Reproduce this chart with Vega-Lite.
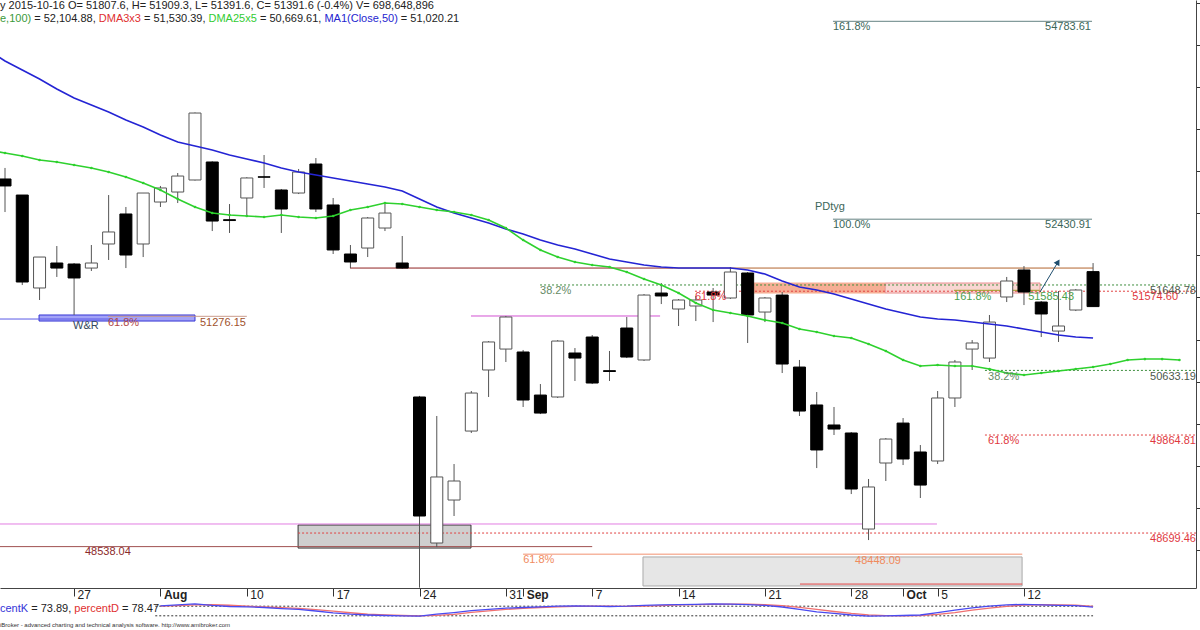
{
"$schema": "https://vega.github.io/schema/vega-lite/v6.json",
"autosize": "none",
"padding": {"left": 0, "top": 0, "right": 4, "bottom": 0},
"width": 1196,
"height": 630,
"background": "#ffffff",
"config": {"font": "Liberation Sans", "view": {"stroke": null}, "scale": {"continuousPadding": 0}},
"datasets": {
"candles": [
{"i":1,"o":52909,"h":53040,"l":52516,"c":52826},
{"i":2,"o":52718,"h":52718,"l":51648,"c":51684},
{"i":3,"o":51613,"h":51981,"l":51470,"c":51981},
{"i":4,"o":51910,"h":52112,"l":51744,"c":51850},
{"i":5,"o":51898,"h":51910,"l":51292,"c":51732},
{"i":6,"o":51850,"h":52124,"l":51815,"c":51910},
{"i":7,"o":52136,"h":52718,"l":51946,"c":52279},
{"i":8,"o":52493,"h":52576,"l":51850,"c":52005},
{"i":9,"o":52136,"h":52742,"l":51981,"c":52742},
{"i":10,"o":52635,"h":52826,"l":52576,"c":52802},
{"i":11,"o":52754,"h":52980,"l":52623,"c":52944},
{"i":12,"o":52897,"h":53700,"l":52890,"c":53693},
{"i":13,"o":53111,"h":53120,"l":52290,"c":52409},
{"i":14,"o":52425,"h":52611,"l":52267,"c":52415},
{"i":15,"o":52683,"h":52930,"l":52457,"c":52921},
{"i":16,"o":52935,"h":53194,"l":52802,"c":52930},
{"i":17,"o":52778,"h":52790,"l":52267,"c":52552},
{"i":18,"o":52742,"h":53028,"l":52730,"c":52992},
{"i":19,"o":53087,"h":53158,"l":52516,"c":52552},
{"i":20,"o":52600,"h":52683,"l":52017,"c":52065},
{"i":21,"o":52017,"h":52124,"l":51850,"c":51922},
{"i":22,"o":52088,"h":52457,"l":51981,"c":52445},
{"i":23,"o":52326,"h":52623,"l":52290,"c":52504},
{"i":24,"o":51910,"h":52231,"l":51840,"c":51850},
{"i":25,"o":50317,"h":50330,"l":48050,"c":48902},
{"i":26,"o":48581,"h":50091,"l":48533,"c":49366},
{"i":27,"o":49092,"h":49520,"l":48902,"c":49318},
{"i":28,"o":49912,"h":50388,"l":49889,"c":50364},
{"i":29,"o":50638,"h":50982,"l":50317,"c":50971},
{"i":30,"o":50887,"h":51280,"l":50733,"c":51268},
{"i":31,"o":50852,"h":50876,"l":50198,"c":50281},
{"i":32,"o":50340,"h":50471,"l":50114,"c":50126},
{"i":33,"o":50317,"h":50994,"l":50305,"c":50982},
{"i":34,"o":50840,"h":50899,"l":50507,"c":50780},
{"i":35,"o":51030,"h":51054,"l":50471,"c":50483},
{"i":36,"o":50630,"h":50864,"l":50507,"c":50620},
{"i":37,"o":51137,"h":51268,"l":50780,"c":50792},
{"i":38,"o":50757,"h":51541,"l":50745,"c":51529},
{"i":39,"o":51553,"h":51672,"l":51422,"c":51518},
{"i":40,"o":51363,"h":51482,"l":51161,"c":51470},
{"i":41,"o":51399,"h":51518,"l":51220,"c":51470},
{"i":42,"o":51565,"h":51613,"l":51208,"c":51529},
{"i":43,"o":51494,"h":51862,"l":51482,"c":51803},
{"i":44,"o":51791,"h":51803,"l":50959,"c":51292},
{"i":45,"o":51327,"h":51506,"l":51208,"c":51494},
{"i":46,"o":51529,"h":51565,"l":50602,"c":50709},
{"i":47,"o":50673,"h":50757,"l":50091,"c":50150},
{"i":48,"o":50222,"h":50376,"l":49472,"c":49687},
{"i":49,"o":49984,"h":50198,"l":49865,"c":49936},
{"i":50,"o":49889,"h":49900,"l":49163,"c":49223},
{"i":51,"o":48747,"h":49342,"l":48616,"c":49247},
{"i":52,"o":49532,"h":49829,"l":49318,"c":49817},
{"i":53,"o":50007,"h":50067,"l":49508,"c":49580},
{"i":54,"o":49663,"h":49746,"l":49116,"c":49270},
{"i":55,"o":49556,"h":50388,"l":49520,"c":50305},
{"i":56,"o":50305,"h":50757,"l":50198,"c":50733},
{"i":57,"o":50887,"h":50994,"l":50638,"c":50959},
{"i":58,"o":50780,"h":51292,"l":50733,"c":51208},
{"i":59,"o":51506,"h":51744,"l":51446,"c":51696},
{"i":60,"o":51827,"h":51874,"l":51410,"c":51565},
{"i":61,"o":51446,"h":51458,"l":51030,"c":51304},
{"i":62,"o":51101,"h":51577,"l":50971,"c":51161},
{"i":63,"o":51351,"h":51601,"l":51339,"c":51589},
{"i":64,"o":51807.6,"h":51909.3,"l":51391.6,"c":51391.6}
],
"ma": [
{"i":0,"ma":54443,"dma":53254},{"i":1,"ma":54312,"dma":53218},{"i":2,"ma":54205,"dma":53182},{"i":3,"ma":54098,"dma":53135},
{"i":4,"ma":53979,"dma":53111},{"i":5,"ma":53872,"dma":53075},{"i":6,"ma":53789,"dma":53040},{"i":7,"ma":53705,"dma":52992},
{"i":8,"ma":53610,"dma":52932},{"i":9,"ma":53527,"dma":52861},{"i":10,"ma":53432,"dma":52778},{"i":11,"ma":53349,"dma":52671},
{"i":12,"ma":53301,"dma":52576},{"i":13,"ma":53254,"dma":52504},{"i":14,"ma":53194,"dma":52481},{"i":15,"ma":53147,"dma":52469},
{"i":16,"ma":53099,"dma":52457},{"i":17,"ma":53040,"dma":52481},{"i":18,"ma":52992,"dma":52457},{"i":19,"ma":52956,"dma":52445},
{"i":20,"ma":52921,"dma":52469},{"i":21,"ma":52885,"dma":52540},{"i":22,"ma":52849,"dma":52576},{"i":23,"ma":52814,"dma":52623},
{"i":24,"ma":52766,"dma":52611},{"i":25,"ma":52671,"dma":52576},{"i":26,"ma":52576,"dma":52540},{"i":27,"ma":52504,"dma":52516},
{"i":28,"ma":52445,"dma":52481},{"i":29,"ma":52386,"dma":52421},{"i":30,"ma":52314,"dma":52326},{"i":31,"ma":52255,"dma":52183},
{"i":32,"ma":52183,"dma":52065},{"i":33,"ma":52124,"dma":51981},{"i":34,"ma":52076,"dma":51922},{"i":35,"ma":52017,"dma":51886},
{"i":36,"ma":51958,"dma":51862},{"i":37,"ma":51922,"dma":51803},{"i":38,"ma":51886,"dma":51720},{"i":39,"ma":51862,"dma":51648},
{"i":40,"ma":51850,"dma":51553},{"i":41,"ma":51850,"dma":51434},{"i":42,"ma":51850,"dma":51351},{"i":43,"ma":51850,"dma":51315},
{"i":44,"ma":51827,"dma":51280},{"i":45,"ma":51779,"dma":51232},{"i":46,"ma":51696,"dma":51197},{"i":47,"ma":51625,"dma":51125},
{"i":48,"ma":51589,"dma":51090},{"i":49,"ma":51541,"dma":51042},{"i":50,"ma":51482,"dma":51018},{"i":51,"ma":51422,"dma":50947},
{"i":52,"ma":51363,"dma":50864},{"i":53,"ma":51315,"dma":50757},{"i":54,"ma":51268,"dma":50685},{"i":55,"ma":51244,"dma":50697},
{"i":56,"ma":51232,"dma":50685},{"i":57,"ma":51208,"dma":50685},{"i":58,"ma":51185,"dma":50650},{"i":59,"ma":51161,"dma":50602},
{"i":60,"ma":51125,"dma":50578},{"i":61,"ma":51090,"dma":50602},{"i":62,"ma":51054,"dma":50626},{"i":63,"ma":51030,"dma":50650},
{"i":64,"ma":51018,"dma":50673},{"i":65,"ma":null,"dma":50709},{"i":66,"ma":null,"dma":50757},{"i":67,"ma":null,"dma":50768},
{"i":68,"ma":null,"dma":50768},{"i":69,"ma":null,"dma":50757}
],
"stoch": [
{"i":10,"k":82,"d":80},{"i":11,"k":88,"d":83},{"i":12,"k":95,"d":88},{"i":13,"k":85,"d":89},{"i":14,"k":78,"d":86},
{"i":15,"k":76,"d":80},{"i":16,"k":72,"d":75},{"i":17,"k":65,"d":71},{"i":18,"k":60,"d":66},{"i":19,"k":50,"d":58},
{"i":20,"k":38,"d":49},{"i":21,"k":30,"d":39},{"i":22,"k":25,"d":31},{"i":23,"k":22,"d":26},{"i":24,"k":20,"d":22},
{"i":25,"k":18,"d":20},{"i":26,"k":30,"d":23},{"i":27,"k":40,"d":29},{"i":28,"k":52,"d":41},{"i":29,"k":60,"d":51},
{"i":30,"k":68,"d":60},{"i":31,"k":72,"d":67},{"i":32,"k":76,"d":72},{"i":33,"k":80,"d":76},{"i":34,"k":82,"d":79},
{"i":35,"k":80,"d":81},{"i":36,"k":78,"d":80},{"i":37,"k":80,"d":79},{"i":38,"k":85,"d":81},{"i":39,"k":88,"d":84},
{"i":40,"k":90,"d":88},{"i":41,"k":92,"d":90},{"i":42,"k":95,"d":92},{"i":43,"k":93,"d":93},{"i":44,"k":90,"d":93},
{"i":45,"k":85,"d":89},{"i":46,"k":75,"d":83},{"i":47,"k":60,"d":73},{"i":48,"k":45,"d":60},{"i":49,"k":35,"d":47},
{"i":50,"k":25,"d":35},{"i":51,"k":18,"d":26},{"i":52,"k":20,"d":21},{"i":53,"k":22,"d":20},{"i":54,"k":25,"d":22},
{"i":55,"k":40,"d":29},{"i":56,"k":55,"d":40},{"i":57,"k":70,"d":55},{"i":58,"k":80,"d":68},{"i":59,"k":88,"d":79},
{"i":60,"k":92,"d":87},{"i":61,"k":88,"d":89},{"i":62,"k":85,"d":88},{"i":63,"k":84,"d":86},{"i":64,"k":73.89,"d":78.47}
],
"rects": [
{"x1":44.31,"x2":51.96,"v1":51672,"v2":51553,"kind":"salmon1"},
{"x1":51.96,"x2":60.93,"v1":51672,"v2":51553,"kind":"salmon2"},
{"x1":17.97,"x2":27.98,"v1":48795,"v2":48521,"kind":"gray1"},
{"x1":37.94,"x2":59.89,"v1":48415,"v2":48070,"kind":"gray2"},
{"x1":2.97,"x2":12.0,"v1":51292,"v2":51220,"kind":"wr"}
],
"levels": [
{"x1":48.94,"x2":63.94,"v":54783.61,"kind":"fib"},
{"x1":48.94,"x2":63.94,"v":52430.91,"kind":"fib"},
{"x1":31.98,"x2":69.96,"v":51648.78,"kind":"g382"},
{"x1":57.74,"x2":69.96,"v":50633.19,"kind":"g382"},
{"x1":40.95,"x2":69.96,"v":51574.6,"kind":"r618"},
{"x1":57.74,"x2":69.96,"v":49864.81,"kind":"r618"},
{"x1":17.97,"x2":69.96,"v":48699.46,"kind":"r618"},
{"x1":55.95,"x2":60.9,"v":51585.43,"kind":"olive"},
{"x1":0.71,"x2":54.96,"v":48807,"kind":"magenta"},
{"x1":27.98,"x2":38.93,"v":51280,"kind":"magenta2"},
{"x1":0.71,"x2":35.0,"v":48538.04,"kind":"brown"},
{"x1":31.0,"x2":59.9,"v":48448.09,"kind":"salmon"},
{"x1":47.03,"x2":59.9,"v":48093,"kind":"red"},
{"x1":20.98,"x2":39.68,"v":51850,"kind":"darkred"},
{"x1":39.68,"x2":64.0,"v":51850,"kind":"brownline"},
{"x1":0.71,"x2":7.08,"v":51244,"kind":"wrblue"},
{"x1":6.96,"x2":15.0,"v":51276.15,"kind":"wrbrown"}
],
"lefttext": [
{"t":"161.8%","x":48.94,"v":54716,"kind":"teal"},
{"t":"100.0%","x":48.94,"v":52362,"kind":"teal"},
{"t":"PDtyg","x":47.9,"v":52576,"kind":"teal"},
{"t":"38.2%","x":31.98,"v":51577,"kind":"gg"},
{"t":"61.8%","x":40.95,"v":51506,"kind":"red"},
{"t":"161.8%","x":55.95,"v":51506,"kind":"green"},
{"t":"51585.43","x":60.24,"v":51506,"kind":"green"},
{"t":"38.2%","x":57.92,"v":50554,"kind":"gg"},
{"t":"61.8%","x":57.92,"v":49793,"kind":"red"},
{"t":"48538.04","x":5.63,"v":48474,"kind":"brown"},
{"t":"61.8%","x":31.0,"v":48379,"kind":"orange"},
{"t":"48448.09","x":50.22,"v":48367,"kind":"orange"},
{"t":"W&R","x":4.94,"v":51161,"kind":"slate"},
{"t":"61.8%","x":6.96,"v":51197,"kind":"wrred"},
{"t":"51276.15","x":12.29,"v":51197,"kind":"wrbrown"}
],
"righttext": [
{"t":"54783.61","x":63.88,"v":54716,"kind":"teal"},
{"t":"52430.91","x":63.88,"v":52362,"kind":"teal"},
{"t":"51648.78","x":69.96,"v":51577,"kind":"val"},
{"t":"51574.60","x":68.92,"v":51506,"kind":"red"},
{"t":"50633.19","x":69.96,"v":50554,"kind":"val"},
{"t":"49864.81","x":69.96,"v":49793,"kind":"red"},
{"t":"48699.46","x":69.96,"v":48628,"kind":"red"}
],
"header": [
{"t":"y 2015-10-16 O= 51807.6, H= 51909.3, L= 51391.6, C= 51391.6 (-0.4%) V= 698,648,896","x":0.71,"v":54966,"kind":"plain"},
{"t":"e,100)","x":0.71,"v":54811,"kind":"g100"},
{"t":"= 52,104.88,","x":2.691,"v":54811,"kind":"plain"},
{"t":"DMA3x3","x":6.431,"v":54811,"kind":"dma3"},
{"t":"= 51,530.39,","x":9.049,"v":54811,"kind":"plain"},
{"t":"DMA25x5","x":12.783,"v":54811,"kind":"dma25"},
{"t":"= 50,669.61,","x":15.76,"v":54811,"kind":"plain"},
{"t":"MA1(Close,50)","x":19.495,"v":54811,"kind":"ma1"},
{"t":"= 51,020.21","x":23.918,"v":54811,"kind":"plain"}
],
"arrow": [{"x1":60.93,"x2":61.97,"v1":51565,"v2":51922}],
"stochlev": [{"x1":9.7,"x2":64,"v":80},{"x1":9.7,"x2":64,"v":20}],
"stochtext": [
{"t":"centK","x":0.71,"v":62,"kind":"k"},
{"t":"= 73.89,","x":2.517,"v":62,"kind":"plain"},
{"t":"percentD","x":5.013,"v":62,"kind":"d"},
{"t":"= 78.47","x":7.775,"v":62,"kind":"plain"}
],
"footer": [{"t":"iBroker - advanced charting and technical analysis software. http://www.amibroker.com","x":0.71,"v":-38}]
},
"resolve": {"scale": {"y": "independent", "color": "independent", "fill": "independent", "stroke": "independent", "strokeDash": "independent", "strokeWidth": "independent"}},
"layer": [
{
"resolve": {"scale": {"color": "independent", "fill": "independent", "stroke": "independent", "strokeDash": "independent", "strokeWidth": "independent"}},
"layer": [
{
"data": {"name": "rects"},
"mark": {"type": "rect", "clip": true, "strokeWidth": 1},
"encoding": {
"x": {"field": "x1", "type": "quantitative", "scale": {"domain": [0.71, 69.96], "nice": false, "zero": false, "padding": 0},
"axis": {"offset": -42, "values": [5,10,15,20,25,30,31,35,40,45,50,53,55,60], "title": null, "grid": false, "domainColor": "#444", "tickColor": "#333", "tickSize": 8, "labelPadding": -7, "labelAlign": "left", "labelBaseline": "top", "labelOffset": 3, "labelFontSize": 12, "labelColor": "#222", "labelFlush": false, "labelOverlap": false, "labelFont": "Liberation Sans",
"labelFontWeight": {"condition": {"test": "datum.value == 10 || datum.value == 31 || datum.value == 53", "value": "bold"}, "value": "normal"},
"labelExpr": "datum.value == 5 ? '27' : datum.value == 10 ? 'Aug' : datum.value == 15 ? '10' : datum.value == 20 ? '17' : datum.value == 25 ? '24' : datum.value == 30 ? '31' : datum.value == 31 ? 'Sep' : datum.value == 35 ? '7' : datum.value == 40 ? '14' : datum.value == 45 ? '21' : datum.value == 50 ? '28' : datum.value == 53 ? 'Oct' : datum.value == 55 ? '5' : '12'"}},
"x2": {"field": "x2"},
"y": {"field": "v1", "type": "quantitative", "scale": {"domain": [48046, 55037], "range": [588, 0], "nice": false, "zero": false, "padding": 0},
"axis": {"orient": "right", "values": [48500,49000,49500,50000,50500,51000,51500,52000,52500,53000,53500,54000,54500,55000], "labels": false, "title": null, "grid": false, "tickSize": 4, "tickColor": "#333", "domainColor": "#444"}},
"y2": {"field": "v2"},
"fill": {"field": "kind", "type": "nominal", "legend": null, "scale": {"domain": ["salmon1","salmon2","gray1","gray2","wr"], "range": ["#f6ae94","#f9d6d2","#cfcfcf","#e6e6e6","#a3a3f7"]}},
"stroke": {"field": "kind", "type": "nominal", "legend": null, "scale": {"domain": ["salmon1","salmon2","gray1","gray2","wr"], "range": ["#f6ae94","#e89090","#333333","#aaaaaa","#3535d5"]}},
"strokeDash": {"field": "kind", "type": "nominal", "legend": null, "scale": {"domain": ["salmon1","salmon2","gray1","gray2","wr"], "range": [[1,0],[2,2],[2,2],[2,2],[1,0]]}}
}
},
{
"mark": {"type": "rule", "color": "#444", "strokeWidth": 1},
"encoding": {"y": {"datum": 55037, "type": "quantitative"}}
},
{
"data": {"name": "levels"},
"mark": {"type": "rule", "clip": true},
"encoding": {
"x": {"field": "x1", "type": "quantitative"},
"x2": {"field": "x2"},
"y": {"field": "v", "type": "quantitative"},
"color": {"field": "kind", "type": "nominal", "legend": null, "scale": {"domain": ["fib","g382","r618","olive","magenta","magenta2","brown","salmon","red","darkred","brownline","wrblue","wrbrown"], "range": ["#5f7f7f","#3c8c3c","#e04040","#9a9a20","#e27ee2","#d050d0","#a05050","#f08a66","#e04040","#8b1a1a","#b0602a","#5a5ae6","#c89888"]}},
"strokeDash": {"field": "kind", "type": "nominal", "legend": null, "scale": {"domain": ["fib","g382","r618","olive","magenta","magenta2","brown","salmon","red","darkred","brownline","wrblue","wrbrown"], "range": [[1,0],[2,2],[2,2],[1,0],[1,0],[1,0],[1,0],[1,0],[1,0],[1,0],[1,0],[1,0],[1,0]]}},
"strokeWidth": {"field": "kind", "type": "nominal", "legend": null, "scale": {"domain": ["fib","g382","r618","olive","magenta","magenta2","brown","salmon","red","darkred","brownline","wrblue","wrbrown"], "range": [1,1,1,1.5,2,1.5,1.5,1,1,1.5,1.5,1.5,1.5]}}
}
},
{
"data": {"name": "candles"},
"mark": {"type": "rule", "clip": true, "color": "#555", "strokeWidth": 1},
"encoding": {
"x": {"field": "i", "type": "quantitative"},
"y": {"field": "l", "type": "quantitative"},
"y2": {"field": "h"}
}
},
{
"data": {"name": "candles"},
"mark": {"type": "bar", "width": 12, "clip": true, "strokeWidth": 1},
"encoding": {
"x": {"field": "i", "type": "quantitative"},
"y": {"field": "o", "type": "quantitative"},
"y2": {"field": "c"},
"fill": {"condition": {"test": "datum.c < datum.o", "value": "#000000"}, "value": "#ffffff"},
"stroke": {"condition": {"test": "datum.c < datum.o", "value": "#000000"}, "value": "#555555"}
}
},
{
"data": {"name": "ma"},
"mark": {"type": "line", "clip": true, "color": "#2424d4", "strokeWidth": 1.6},
"encoding": {
"x": {"field": "i", "type": "quantitative"},
"y": {"field": "ma", "type": "quantitative"}
}
},
{
"data": {"name": "ma"},
"mark": {"type": "line", "clip": true, "color": "#2ed12e", "strokeWidth": 1.6},
"encoding": {
"x": {"field": "i", "type": "quantitative"},
"y": {"field": "dma", "type": "quantitative"}
}
},
{
"data": {"name": "ma"},
"mark": {"type": "point", "clip": true, "filled": true, "size": 7, "color": "#2ed12e", "opacity": 1},
"encoding": {
"x": {"field": "i", "type": "quantitative"},
"y": {"field": "dma", "type": "quantitative"}
}
},
{
"data": {"name": "arrow"},
"mark": {"type": "rule", "color": "#1f4e6e", "strokeWidth": 1},
"encoding": {
"x": {"field": "x1", "type": "quantitative"},
"x2": {"field": "x2"},
"y": {"field": "v1", "type": "quantitative"},
"y2": {"field": "v2"}
}
},
{
"data": {"name": "arrow"},
"mark": {"type": "point", "shape": "triangle-up", "filled": true, "size": 45, "angle": 31, "color": "#1f4e6e", "opacity": 1},
"encoding": {
"x": {"field": "x2", "type": "quantitative"},
"y": {"field": "v2", "type": "quantitative"}
}
},
{
"data": {"name": "lefttext"},
"mark": {"type": "text", "align": "left", "baseline": "middle", "fontSize": 11, "font": "Liberation Sans"},
"encoding": {
"x": {"field": "x", "type": "quantitative"},
"y": {"field": "v", "type": "quantitative"},
"text": {"field": "t"},
"color": {"field": "kind", "type": "nominal", "legend": null, "scale": {"domain": ["teal","gg","val","red","green","orange","brown","slate","wrred","wrbrown"], "range": ["#3b6659","#668a66","#4d5a4d","#e0383e","#4ca04c","#f08a5d","#8b2a2a","#34495e","#b04848","#a0522d"]}}
}
},
{
"data": {"name": "righttext"},
"mark": {"type": "text", "align": "right", "baseline": "middle", "fontSize": 11, "font": "Liberation Sans"},
"encoding": {
"x": {"field": "x", "type": "quantitative"},
"y": {"field": "v", "type": "quantitative"},
"text": {"field": "t"},
"color": {"field": "kind", "type": "nominal", "legend": null, "scale": {"domain": ["teal","val","red"], "range": ["#3b6659","#4d5a4d","#e0383e"]}}
}
},
{
"data": {"name": "header"},
"mark": {"type": "text", "align": "left", "baseline": "middle", "fontSize": 11, "font": "Liberation Sans"},
"encoding": {
"x": {"field": "x", "type": "quantitative"},
"y": {"field": "v", "type": "quantitative"},
"text": {"field": "t"},
"color": {"field": "kind", "type": "nominal", "legend": null, "scale": {"domain": ["plain","g100","dma3","dma25","ma1"], "range": ["#222222","#3a9a3a","#e03030","#33cc33","#2424d0"]}}
}
}
]
},
{
"resolve": {"scale": {"color": "independent"}},
"layer": [
{
"mark": {"type": "rule", "color": "#444", "strokeWidth": 1},
"encoding": {"y": {"datum": 100, "type": "quantitative", "scale": {"domain": [0, 100], "range": [619, 603], "nice": false, "zero": false}, "axis": null}}
},
{
"mark": {"type": "rule", "color": "#444", "strokeWidth": 1},
"encoding": {"x": {"datum": 69.96, "type": "quantitative"}, "y": {"datum": 0, "type": "quantitative"}, "y2": {"datum": 100}}
},
{
"data": {"name": "stochlev"},
"mark": {"type": "rule", "color": "#333", "strokeDash": [2,2], "strokeWidth": 1},
"encoding": {
"x": {"field": "x1", "type": "quantitative"},
"x2": {"field": "x2"},
"y": {"field": "v", "type": "quantitative"}
}
},
{
"data": {"name": "stoch"},
"mark": {"type": "line", "color": "#f07070", "strokeWidth": 1.3},
"encoding": {
"x": {"field": "i", "type": "quantitative"},
"y": {"field": "d", "type": "quantitative"}
}
},
{
"data": {"name": "stoch"},
"mark": {"type": "line", "color": "#4a4af0", "strokeWidth": 1.3},
"encoding": {
"x": {"field": "i", "type": "quantitative"},
"y": {"field": "k", "type": "quantitative"}
}
},
{
"data": {"name": "stochtext"},
"mark": {"type": "text", "align": "left", "baseline": "middle", "fontSize": 11, "font": "Liberation Sans"},
"encoding": {
"x": {"field": "x", "type": "quantitative"},
"y": {"field": "v", "type": "quantitative"},
"text": {"field": "t"},
"color": {"field": "kind", "type": "nominal", "legend": null, "scale": {"domain": ["k","plain","d"], "range": ["#3434d8","#222222","#e03030"]}}
}
},
{
"data": {"name": "footer"},
"mark": {"type": "text", "align": "left", "baseline": "middle", "fontSize": 6, "font": "Liberation Sans", "color": "#333"},
"encoding": {
"x": {"field": "x", "type": "quantitative"},
"y": {"field": "v", "type": "quantitative"},
"text": {"field": "t"}
}
}
]
}
]
}
